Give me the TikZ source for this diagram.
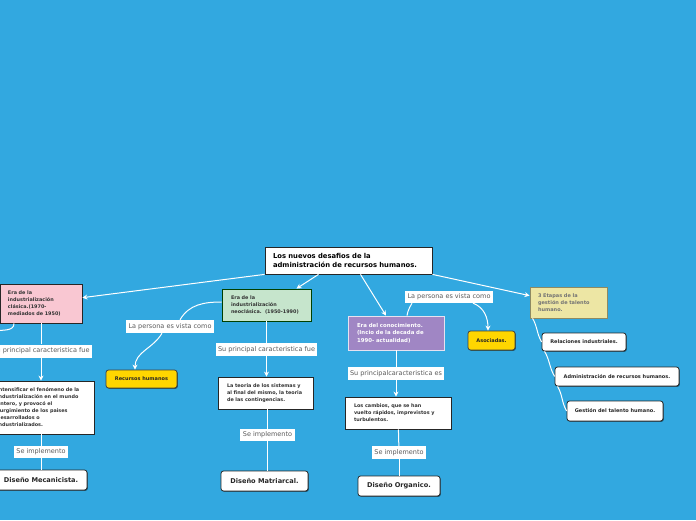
\documentclass[tikz,border=0pt]{standalone}
\usepackage{fontspec}
\setmainfont{DejaVu Sans}
\usetikzlibrary{arrows.meta,shadows}

\definecolor{bgblue}{RGB}{50,168,224}
\definecolor{pinkera}{RGB}{249,199,210}
\definecolor{greenera}{RGB}{198,229,204}
\definecolor{purpleera}{RGB}{160,134,196}
\definecolor{khakiera}{RGB}{237,230,164}
\definecolor{goldfill}{RGB}{255,214,0}
\definecolor{taggray}{RGB}{90,90,90}

\begin{document}
\begin{tikzpicture}[x=1pt,y=1pt,
    arrow/.style = {draw=white,line width=1pt,-{Stealth[length=5pt,width=5pt]}},
    link/.style = {draw=white,line width=1pt},
    boxshadow/.style = {drop shadow={shadow xshift=0.8pt,shadow yshift=-0.8pt,opacity=0.55,fill=black}},
    era/.style = {draw=black!85,line width=0.8pt,boxshadow,align=left,inner ysep=0pt,
                  font=\fontsize{4.9}{7}\selectfont\bfseries,text=black!80},
    desc/.style = {era,fill=white},
    result/.style = {draw=black!85,line width=0.8pt,fill=white,rounded corners=2.5pt,boxshadow,
                     inner sep=0pt,font=\fontsize{6.6}{8}\selectfont\bfseries,text=black!85},
    stage/.style = {result,font=\fontsize{5}{6}\selectfont\bfseries},
    gold/.style = {stage,fill=goldfill,draw=black!75},
    tag/.style = {fill=white,inner xsep=2.5pt,inner ysep=0pt,minimum height=13pt,
                  font=\fontsize{6.5}{7.5}\selectfont,text=taggray}]

    \useasboundingbox (0,0) rectangle (696,520);
    \fill[bgblue] (0,0) rectangle (696,520);
    \clip (0,0) rectangle (696,520);

    % Main topic
    \node[era,fill=white,text=black,text width=151pt,inner xsep=8pt,minimum height=27pt,
          font=\fontsize{6.8}{9}\selectfont\bfseries] (title) at (348.5,259.5)
          {Los nuevos desafios de la\\administración de recursos humanos.};

    % Eras
    \node[era,fill=pinkera,text width=66pt,inner xsep=8pt,minimum height=39pt] (pink) at (41,216.5)
          {Era de la\\industrialización\\clásica.(1970-\\mediados de 1950)};
    \node[era,fill=greenera,draw=black!75!green,text width=71pt,inner xsep=9pt,minimum height=32pt] (green) at (266.5,215)
          {Era de la\\industrialización\\neoclásica.~~(1950-1990)};
    \node[era,fill=purpleera,draw=white!75!purpleera,text=white,text width=78pt,inner xsep=9pt,minimum height=34pt,
          font=\fontsize{5.4}{7.6}\selectfont\bfseries] (purple) at (396,187)
          {Era del conocimiento.\\(Incio de la decada de\\1990- actualidad)};
    \node[era,fill=khakiera,draw=black!40!khakiera,text=black!55,text width=61pt,inner xsep=8pt,minimum height=31pt,
          font=\fontsize{5}{7}\selectfont\bfseries] (khaki) at (568.5,217.5)
          {3 Etapas de la\\gestión de talento\\humano.};

    % Descriptions
    \node[desc,text width=88pt,inner xsep=9pt,minimum height=53pt] (ldesc) at (41,112.5)
          {Intensificar el fenómeno de la\\industrialización en el mundo\\entero, y provocó el\\surgimiento de los paises\\desarrollados o\\industrializados.};
    \node[desc,text width=78pt,inner xsep=8.5pt,minimum height=32pt] (mdesc) at (266,127)
          {La teoria de los sistemas y\\al final del mismo, la teoria\\de las contingencias.};
    \node[desc,text width=88pt,inner xsep=9pt,minimum height=32pt] (rdesc) at (398,107)
          {Los cambios, que se han\\vuelto rápidos, imprevistos y\\turbulentos.};

    % Results
    \node[result,minimum width=92pt,minimum height=20pt] (mecan) at (41,40) {Diseño Mecanicista.};
    \node[result,minimum width=87pt,minimum height=20pt] (matri) at (264.5,39) {Diseño Matriarcal.};
    \node[result,minimum width=82pt,minimum height=20pt] (organ) at (399,34) {Diseño Organico.};

    \node[gold,minimum width=71pt,minimum height=18pt] (recursos) at (141.5,141) {Recursos humanos};
    \node[gold,minimum width=47pt,minimum height=19pt] (asociadas) at (491.5,179.5) {Asociadas.};

    % Stages
    \node[stage,minimum width=84pt,minimum height=18pt] (relac) at (584,178) {Relaciones industriales.};
    \node[stage,minimum width=124pt,minimum height=19pt] (admin) at (617,143.5) {Administración de recursos humanos.};
    \node[stage,minimum width=96pt,minimum height=20pt] (gestion) at (615,109) {Gestión del talento humano.};

    % Labels
    \node[tag] (lpersA) at (170,193.5) {La persona es vista como};
    \node[tag] (lsuA) at (41,169) {Su principal caracteristica fue};
    \node[tag] (lsuB) at (266.5,170.5) {Su principal caracteristica fue};
    \node[tag,minimum height=12pt] (lseA) at (41,68) {Se implemento};
    \node[tag,minimum height=12pt] (lseB) at (267.5,85) {Se implemento};
    \node[tag] (lseC) at (399,67.5) {Se implemento};
    \node[tag] (lsuC) at (396,146.5) {Su principalcaracteristica es};
    \node[tag,minimum height=12pt] (lpersB) at (449,223) {La persona es vista como};

    \coordinate (offleft) at (-6,189);

    % Connectors from the main topic
    \draw[arrow] (title.south west) -- (pink.8);
    \draw[arrow] ([xshift=-30pt]title.south) -- ([xshift=30pt]green.north);
    \draw[arrow] ([xshift=12pt]title.south) -- ([xshift=-10pt]purple.north);
    \draw[arrow] (title.south east) -- (khaki.170);

    % Left branch
    \draw[link] ([xshift=-27pt]pink.south) to[out=-90,in=10] (offleft);
    \draw[link] (pink) -- (lsuA);
    \draw[arrow] (lsuA) -- (ldesc);
    \draw[link] (ldesc) -- (lseA);
    \draw[link] (lseA) -- (mecan);

    % Middle branch
    \draw[link] ([yshift=3pt]green.west) to[out=180,in=60] ([xshift=10pt]lpersA.north);
    \draw[arrow] ([xshift=-8pt]lpersA.south) to[out=240,in=90] ([xshift=-6.5pt]recursos.north);
    \draw[link] (green) -- (lsuB);
    \draw[arrow] (lsuB) -- (lsuB |- mdesc.north);
    \draw[link] (lseB |- mdesc.south) -- (lseB);
    \draw[link] (lseB) -- (lseB |- matri.north);

    % Right branch
    \draw[link] ([xshift=11pt]purple.north) to[out=80,in=240] ([xshift=-37pt]lpersB.south);
    \draw[arrow] ([xshift=24pt]lpersB.south) to[out=-20,in=90] ([xshift=-3.5pt]asociadas.north);
    \draw[link] (purple) -- (lsuC);
    \draw[arrow] (lsuC) -- (lsuC |- rdesc.north);
    \draw[link] (rdesc) -- (lseC);
    \draw[link] (lseC) -- (organ);

    % Stages
    \draw[link] ([xshift=3pt]khaki.south west) to[out=-60,in=120] (relac.west);
    \draw[link] ([xshift=3pt]relac.south west) to[out=-60,in=120] (admin.west);
    \draw[link] ([xshift=3pt]admin.south west) to[out=-60,in=120] (gestion.west);
\end{tikzpicture}
\end{document}
